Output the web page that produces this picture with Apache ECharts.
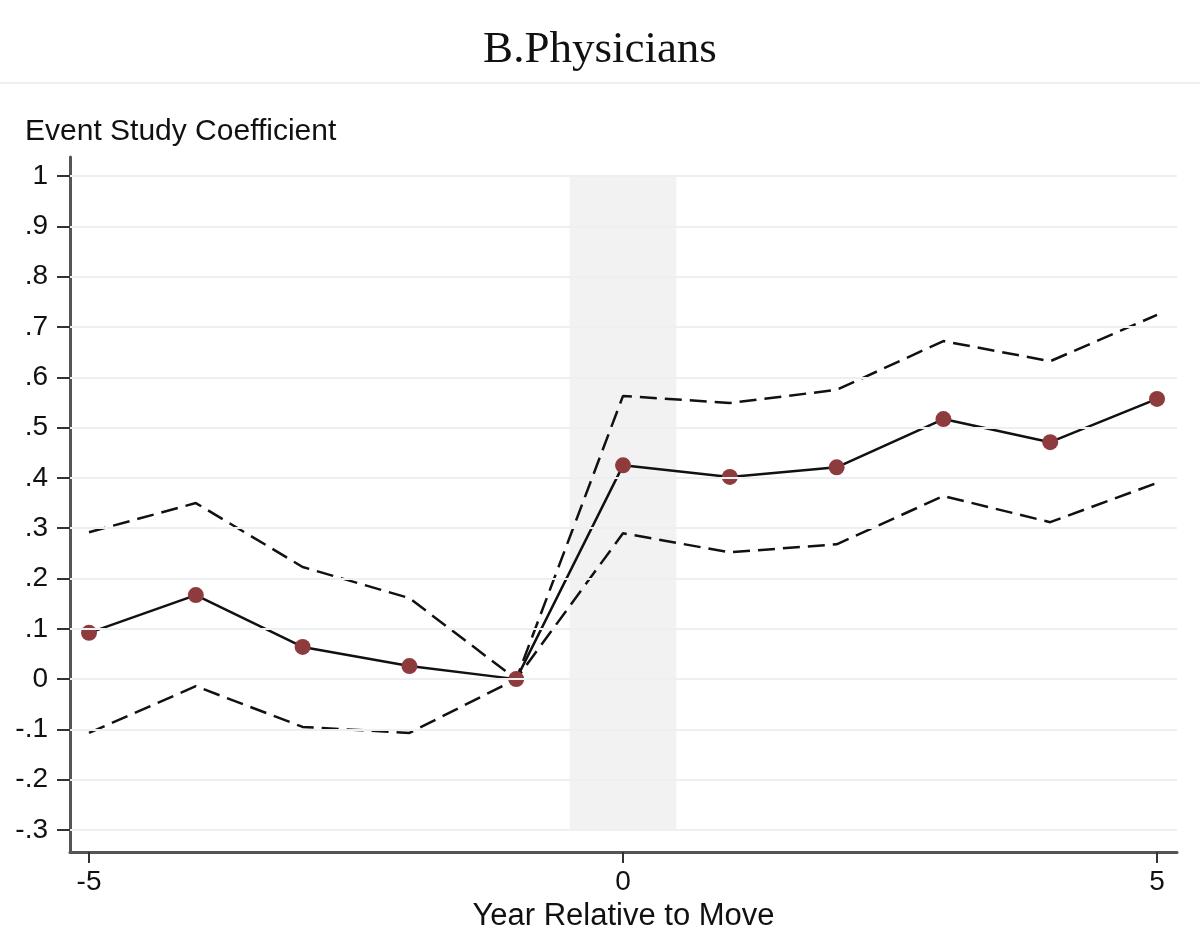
<!DOCTYPE html>
<html>
<head>
<meta charset="utf-8">
<script src="https://cdn.jsdelivr.net/npm/echarts@6/dist/echarts.min.js"></script>
<style>html,body{margin:0;padding:0;background:#fff}#c{width:1200px;height:943px}</style>
</head>
<body>
<div id="c"></div>
<script>
const years = [-5, -4, -3, -2, -1, 0, 1, 2, 3, 4, 5];
const coef  = [0.092, 0.167, 0.064, 0.026, 0, 0.425, 0.402, 0.421, 0.517, 0.471, 0.557];
const upper = [0.292, 0.350, 0.223, 0.161, 0, 0.563, 0.549, 0.575, 0.672, 0.632, 0.724];
const lower = [-0.107, -0.014, -0.095, -0.107, 0, 0.290, 0.252, 0.268, 0.364, 0.312, 0.390];
const yTicks = [-0.3, -0.2, -0.1, 0, 0.1, 0.2, 0.3, 0.4, 0.5, 0.6, 0.7, 0.8, 0.9, 1];
const xTicks = [-5, 0, 5];
const shadeRange = [-0.5, 0.5];

function fmtY(v) {
  const r = Math.round(v * 10) / 10;
  if (r === 0) return '0';
  if (r === 1) return '1';
  return (r < 0 ? '-' : '') + String(Math.abs(r)).replace(/^0/, '');
}
const pair = arr => years.map((y, i) => [y, arr[i]]);
const SANS = '"Liberation Sans", Arial, sans-serif';

const chart = echarts.init(document.getElementById('c'));
chart.setOption({
  animation: false,
  backgroundColor: '#fff',
  grid: { left: 70, right: 23, top: 157, bottom: 91, containLabel: false, outerBoundsMode: 'none' },
  graphic: [
    { type: 'text', left: 'center', top: 28, style: { text: 'B.Physicians', font: '45px "Liberation Serif", serif', fill: '#111' } },
    { type: 'rect', shape: { x: 0, y: 82, width: 1200, height: 2 }, style: { fill: '#eef1f1' } },
    { type: 'text', left: 25, top: 117, style: { text: 'Event Study Coefficient', font: '30px ' + SANS, fill: '#111' } }
  ],
  xAxis: {
    type: 'value', min: -5.178, max: 5.187,
    name: 'Year Relative to Move', nameLocation: 'middle', nameGap: 49,
    nameTextStyle: { fontSize: 31, color: '#111', fontFamily: SANS },
    axisLine: { show: true, onZero: false, lineStyle: { color: '#555', width: 3 } },
    axisTick: { show: true, length: 11, customValues: xTicks, lineStyle: { color: '#333', width: 2 } },
    axisLabel: { customValues: xTicks, fontSize: 28, color: '#111', margin: 16, fontFamily: SANS },
    splitLine: { show: false }
  },
  yAxis: {
    type: 'value', min: -0.3437, max: 1.038,
    axisLine: { show: true, onZero: false, lineStyle: { color: '#555', width: 3 } },
    axisTick: { show: true, length: 13, customValues: yTicks, lineStyle: { color: '#333', width: 2 } },
    axisLabel: { customValues: yTicks, formatter: fmtY, fontSize: 28, color: '#111', margin: 22, fontFamily: SANS },
    splitLine: { show: false }
  },
  series: [
    {
      type: 'line', data: [], z: 1, silent: true,
      markLine: {
        silent: true, symbol: 'none', label: { show: false },
        lineStyle: { color: '#eaf0f4', width: 2, type: 'solid' },
        data: yTicks.map(v => ({ yAxis: v }))
      }
    },
    {
      type: 'line', data: [], z: 2, silent: true,
      markArea: {
        silent: true, itemStyle: { color: '#f2f2f2' },
        data: [[{ xAxis: shadeRange[0], yAxis: yTicks[0] }, { xAxis: shadeRange[1], yAxis: yTicks[yTicks.length - 1] }]]
      }
    },
    {
      type: 'line', data: pair(upper), z: 3, symbol: 'none',
      lineStyle: { color: '#111', width: 2.5, type: [17, 8] }
    },
    {
      type: 'line', data: pair(lower), z: 3, symbol: 'none',
      lineStyle: { color: '#111', width: 2.5, type: [17, 8] }
    },
    {
      type: 'line', data: pair(coef), z: 4, symbol: 'circle', symbolSize: 16,
      lineStyle: { color: '#111', width: 2.5 },
      itemStyle: { color: '#8e3b3d', borderWidth: 0 }
    }
  ]
});
</script>
</body>
</html>
